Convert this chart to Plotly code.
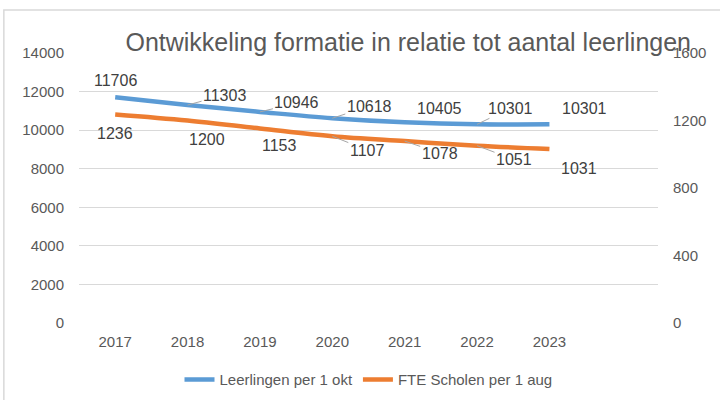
import plotly.graph_objects as go

years = [2017, 2018, 2019, 2020, 2021, 2022, 2023]
leerlingen = [11706, 11303, 10946, 10618, 10405, 10301, 10301]
fte = [1236, 1200, 1153, 1107, 1078, 1051, 1031]

BLUE = "#5B9BD5"
ORANGE = "#ED7D31"
GRID = "#D9D9D9"
TXT = "#595959"
FONT = "Liberation Sans, Arial, sans-serif"

# label offsets (px) and whether Excel drew a leader line
blue_lbl = [(0, -17, False), (37, -10, True), (37, -9, True), (37, -12, True),
            (35, -14, False), (33, -16, True), (35, -16, False)]
orange_lbl = [(0, 19, False), (19, 19, False), (20, 17, False), (35, 14, True),
              (35, 12, True), (37, 14, True), (30, 19, False)]

fig = go.Figure()
fig.add_trace(go.Scatter(x=years, y=leerlingen, name="Leerlingen per 1 okt",
                         mode="lines", line=dict(color=BLUE, width=4.5, shape="spline")))
fig.add_trace(go.Scatter(x=years, y=fte, name="FTE Scholen per 1 aug", yaxis="y2",
                         mode="lines", line=dict(color=ORANGE, width=4.5, shape="spline")))


def labels(vals, offs, yref):
    out = []
    for yr, v, (dx, dy, lead) in zip(years, vals, offs):
        out.append(dict(x=yr, y=v, xref="x", yref=yref, text=str(v),
                        showarrow=True, ax=dx, ay=dy, arrowhead=0, arrowwidth=1,
                        arrowcolor="#A6A6A6" if lead else "rgba(0,0,0,0)",
                        standoff=0, font=dict(size=16, color="#404040", family=FONT)))
    return out


annos = labels(leerlingen, blue_lbl, "y") + labels(fte, orange_lbl, "y2")

fig.update_layout(
    width=720, height=400,
    margin=dict(l=79, r=62, t=53, b=77, autoexpand=False),
    paper_bgcolor="white", plot_bgcolor="white",
    font=dict(family=FONT, color=TXT, size=15),
    title=dict(text="Ontwikkeling formatie in relatie tot aantal leerlingen",
               x=0.567, xanchor="center", y=0.895, yanchor="middle",
               font=dict(size=25, color=TXT, family=FONT)),
    xaxis=dict(range=[2016.5, 2024.5], tickvals=years, showgrid=False,
               zeroline=False, showline=False, ticks="", ticklabelstandoff=8,
               automargin=False),
    yaxis=dict(range=[0, 14000], dtick=2000, tickformat="d", gridcolor=GRID,
               gridwidth=1, zeroline=False, showline=False, ticks="",
               ticklabelstandoff=14, automargin=False),
    yaxis2=dict(range=[0, 1600], dtick=400, tickformat="d", overlaying="y",
                side="right", showgrid=False, zeroline=False, showline=False,
                ticks="", ticklabelstandoff=14, automargin=False),
    legend=dict(orientation="h", x=0.5, xanchor="center", y=-0.21, yanchor="middle",
                font=dict(size=15, color=TXT), traceorder="normal"),
    showlegend=True,
    annotations=annos,
    shapes=[dict(type="rect", xref="paper", yref="paper", x0=-0.1298, x1=1.2,
                 y0=-0.5, y1=1.159, line=dict(color=GRID, width=1.5),
                 fillcolor="rgba(0,0,0,0)", layer="below")],
)

# drop the browser's default 8px body margin so the figure sits at (0, 0)
fig.write_html("out.html", config={"displayModeBar": False},
               post_script="document.body.style.margin='0px';")
